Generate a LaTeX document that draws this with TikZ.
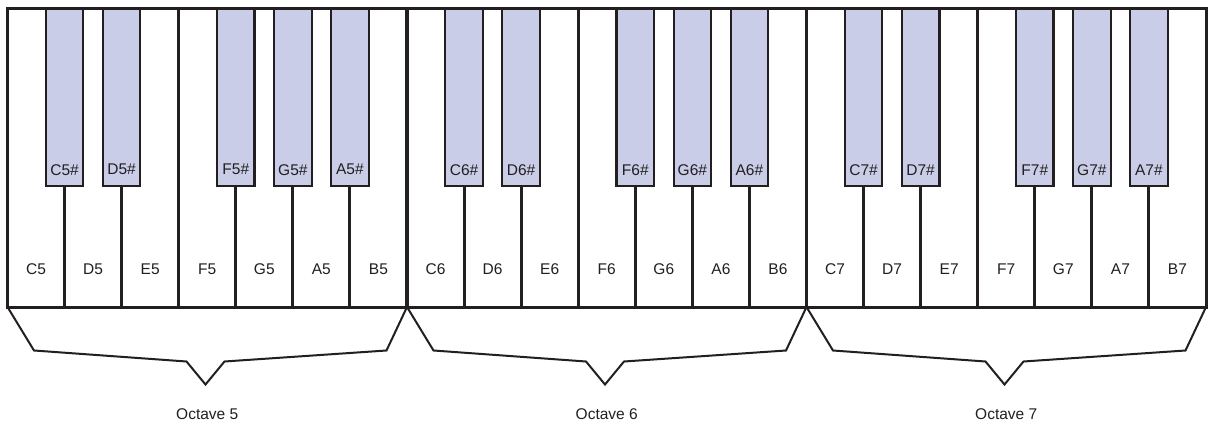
\documentclass[tikz,border=0pt]{standalone}
\usepackage{fontspec}
\setmainfont{Liberation Sans}
\usepackage{xcolor}
\usetikzlibrary{positioning}
\definecolor{keyline}{RGB}{35,31,32}
\definecolor{sharp}{RGB}{201,205,232}
\tikzset{
  wk/.style={draw=keyline,line width=3pt,fill=white,minimum width=57.07pt,minimum height=298.5pt,inner sep=0pt,outer sep=0pt},
  bk/.style={draw=keyline,line width=2.2pt,fill=sharp,minimum width=37.5pt,minimum height=177.2pt,inner sep=0pt,outer sep=0pt},
  lab/.style={text=keyline,font=\fontsize{15.5}{18}\selectfont,inner sep=0pt},
  brc/.style={draw=keyline,line width=2pt,line join=miter}
}
% #1 = left edge of the octave, #2 = octave number
\newcommand{\octave}[2]{%
  \node[wk] (C#2) at (#1+28.535,263.25) {};
  \node[wk,right=0pt of C#2] (D#2) {};
  \node[wk,right=0pt of D#2] (E#2) {};
  \node[wk,right=0pt of E#2] (F#2) {};
  \node[wk,right=0pt of F#2] (G#2) {};
  \node[wk,right=0pt of G#2] (A#2) {};
  \node[wk,right=0pt of A#2] (B#2) {};
  \node[lab] (C#2t) at ([yshift=38pt]C#2.south) {C#2};
  \node[lab] (D#2t) at ([yshift=38pt]D#2.south) {D#2};
  \node[lab] (E#2t) at ([yshift=38pt]E#2.south) {E#2};
  \node[lab] (F#2t) at ([yshift=38pt]F#2.south) {F#2};
  \node[lab] (G#2t) at ([yshift=38pt]G#2.south) {G#2};
  \node[lab] (A#2t) at ([yshift=38pt]A#2.south) {A#2};
  \node[lab] (B#2t) at ([yshift=38pt]B#2.south) {B#2};
  \node[bk,anchor=north] (Cs#2) at (C#2.north east) {};
  \node[bk,anchor=north] (Ds#2) at (D#2.north east) {};
  \node[bk,anchor=north] (Fs#2) at (F#2.north east) {};
  \node[bk,anchor=north] (Gs#2) at (G#2.north east) {};
  \node[bk,anchor=north] (As#2) at (A#2.north east) {};
  \node[lab] (Cs#2t) at ([yshift=16pt]Cs#2.south) {C#2\#};
  \node[lab] (Ds#2t) at ([yshift=16pt]Ds#2.south) {D#2\#};
  \node[lab] (Fs#2t) at ([yshift=16pt]Fs#2.south) {F#2\#};
  \node[lab] (Gs#2t) at ([yshift=16pt]Gs#2.south) {G#2\#};
  \node[lab] (As#2t) at ([yshift=16pt]As#2.south) {A#2\#};
  \draw[brc] (C#2.south west) -- ++(26.5,-43.5) -- ++(152.5,-11) -- ++(19,-23)
    -- ++(19,23) -- ++(162,11) -- (B#2.south east);
  \node[lab] (oct#2) at (#1+199.75,7) {Octave #2};
}

\begin{document}
\begin{tikzpicture}[x=1pt,y=1pt]
\useasboundingbox (0,0) rectangle (1212,421);
\octave{7.5}{5}
\octave{407}{6}
\octave{806.5}{7}
\end{tikzpicture}
\end{document}
